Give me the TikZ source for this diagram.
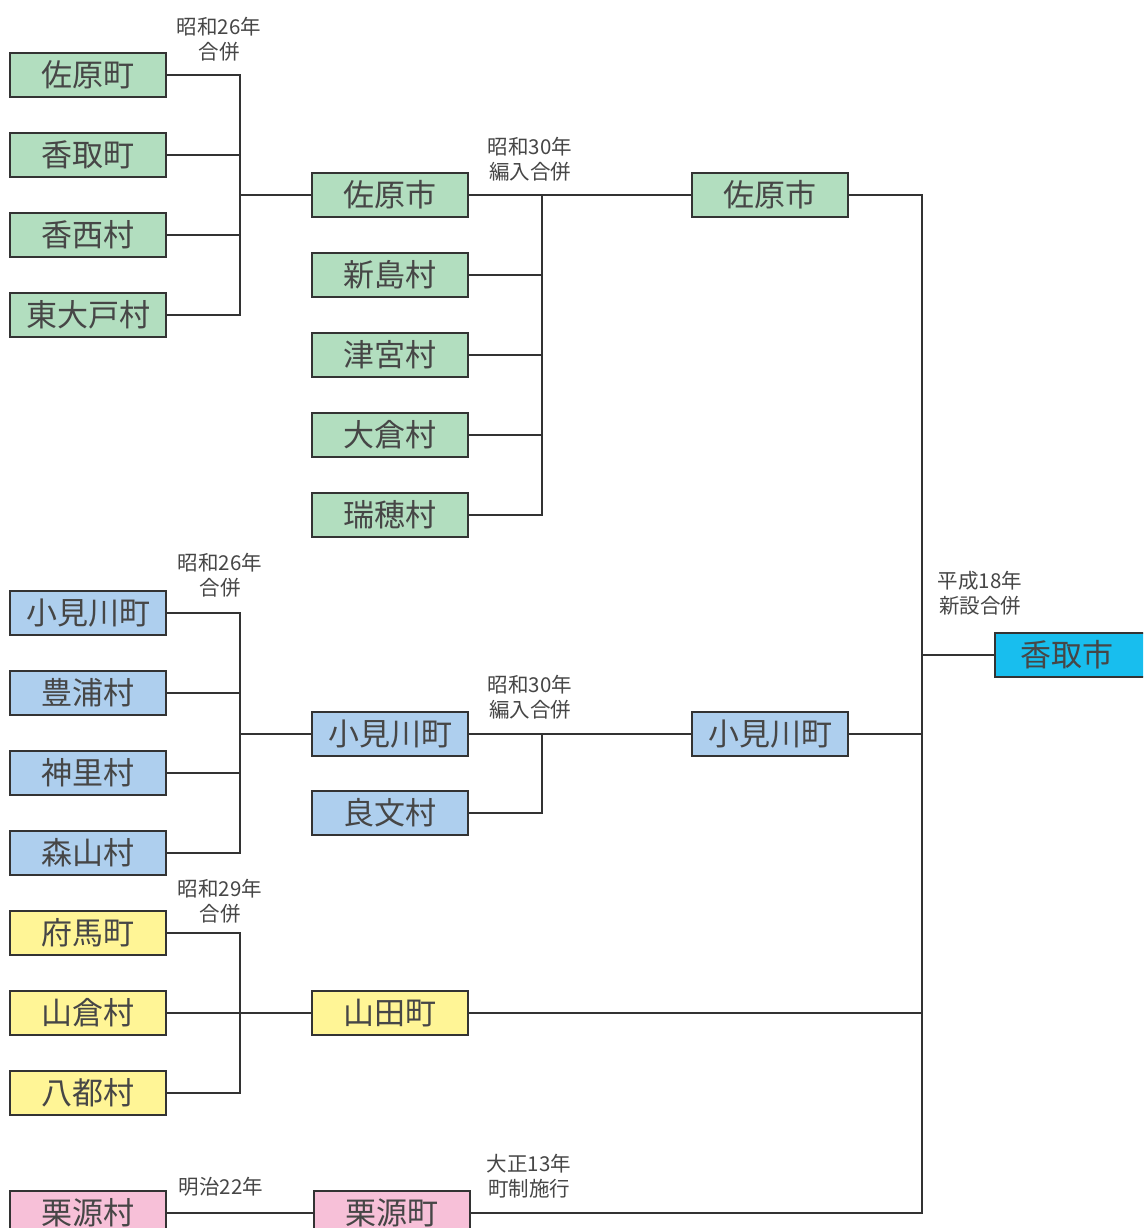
\documentclass[tikz,border=0pt]{standalone}
\usepackage{fontspec}
\newfontfamily\jp{Noto Sans CJK JP}
\definecolor{cgreen}{RGB}{178,222,191}
\definecolor{cblue}{RGB}{174,207,238}
\definecolor{cyellow}{RGB}{255,245,150}
\definecolor{cpink}{RGB}{247,192,216}
\definecolor{ccyan}{RGB}{24,190,238}
\definecolor{cline}{RGB}{51,51,51}
\definecolor{ctext}{RGB}{70,70,70}
\tikzset{
  box/.style={draw=cline, line width=1.6pt, minimum width=156pt, minimum height=44pt, inner sep=0pt, font=\jp\fontsize{31}{31}\selectfont, text=ctext},
  g/.style={box, fill=cgreen},
  b/.style={box, fill=cblue},
  yl/.style={box, fill=cyellow},
  p/.style={box, fill=cpink},
  c/.style={box, fill=ccyan},
  lbl/.style={font=\jp\fontsize{20.5}{25}\selectfont, text=ctext, align=center, inner sep=0pt},
  conn/.style={draw=cline, line width=1.4pt}
}
\begin{document}
\begin{tikzpicture}[x=1pt,y=-1pt]
\clip (0,0) rectangle (1143,1228);
\fill[white] (0,0) rectangle (1143,1228);
% green group
\node[g] (a1) at (88,75) {佐原町};
\node[g] (a2) at (88,155) {香取町};
\node[g] (a3) at (88,235) {香西村};
\node[g] (a4) at (88,315) {東大戸村};
\node[g] (s1) at (390,195) {佐原市};
\node[g] (s2) at (390,275) {新島村};
\node[g] (s3) at (390,355) {津宮村};
\node[g] (s4) at (390,435) {大倉村};
\node[g] (s5) at (390,515) {瑞穂村};
\node[g] (t1) at (770,195) {佐原市};
% blue group
\node[b] (b1) at (88,613) {小見川町};
\node[b] (b2) at (88,693) {豊浦村};
\node[b] (b3) at (88,773) {神里村};
\node[b] (b4) at (88,853) {森山村};
\node[b] (k1) at (390,734) {小見川町};
\node[b] (k2) at (390,813) {良文村};
\node[b] (u1) at (770,734) {小見川町};
% yellow
\node[yl] (y1) at (88,933) {府馬町};
\node[yl] (y2) at (88,1013) {山倉村};
\node[yl] (y3) at (88,1093) {八都村};
\node[yl] (m1) at (390,1013) {山田町};
% pink
\node[p] (p1) at (88,1213) {栗源村};
\node[p] (q1) at (392,1213) {栗源町};
% final
\node[c, anchor=west] (f) at (994,655) {\hspace*{6pt}香取市\hspace*{18pt}};
% junction coordinates
\coordinate (ja) at (240,195);
\coordinate (js) at (542,195);
\coordinate (jb) at (240,734);
\coordinate (jk) at (542,734);
\coordinate (jy) at (240,1013);
\coordinate (jf) at (922,655);
% connectors green
\draw[conn] (a1.east) -| (ja);
\draw[conn] (a4.east) -| (ja);
\draw[conn] (a2.east) -- (a2.east -| ja);
\draw[conn] (a3.east) -- (a3.east -| ja);
\draw[conn] (ja) -- (s1.west);
\draw[conn] (s1.east) -- (t1.west);
\draw[conn] (s5.east) -| (js);
\draw[conn] (s2.east) -- (s2.east -| js);
\draw[conn] (s3.east) -- (s3.east -| js);
\draw[conn] (s4.east) -- (s4.east -| js);
% blue
\draw[conn] (b1.east) -| (jb);
\draw[conn] (b4.east) -| (jb);
\draw[conn] (b2.east) -- (b2.east -| jb);
\draw[conn] (b3.east) -- (b3.east -| jb);
\draw[conn] (jb) -- (k1.west);
\draw[conn] (k1.east) -- (u1.west);
\draw[conn] (k2.east) -| (jk);
% yellow
\draw[conn] (y1.east) -| (y3.east -| jy) -- (y3.east);
\draw[conn] (y2.east) -- (m1.west);
% pink
\draw[conn] (p1.east) -- (q1.west);
% final bracket
\draw[conn] (t1.east) -| (jf);
\draw[conn] (q1.east) -| (jf);
\draw[conn] (u1.east) -- (u1.east -| jf);
\draw[conn] (m1.east) -- (m1.east -| jf);
\draw[conn] (jf) -- (f.west);
% labels
\node[lbl] (l1) at (219,39) {昭和26年\\合併};
\node[lbl] (l2) at (530,159) {昭和30年\\編入合併};
\node[lbl] (l3) at (220,575) {昭和26年\\合併};
\node[lbl] (l4) at (530,697) {昭和30年\\編入合併};
\node[lbl] (l5) at (220,901) {昭和29年\\合併};
\node[lbl] (l6) at (221,1187) {明治22年};
\node[lbl] (l7) at (529,1176) {大正13年\\町制施行};
\node[lbl] (l8) at (980,593) {平成18年\\新設合併};
\end{tikzpicture}
\end{document}
